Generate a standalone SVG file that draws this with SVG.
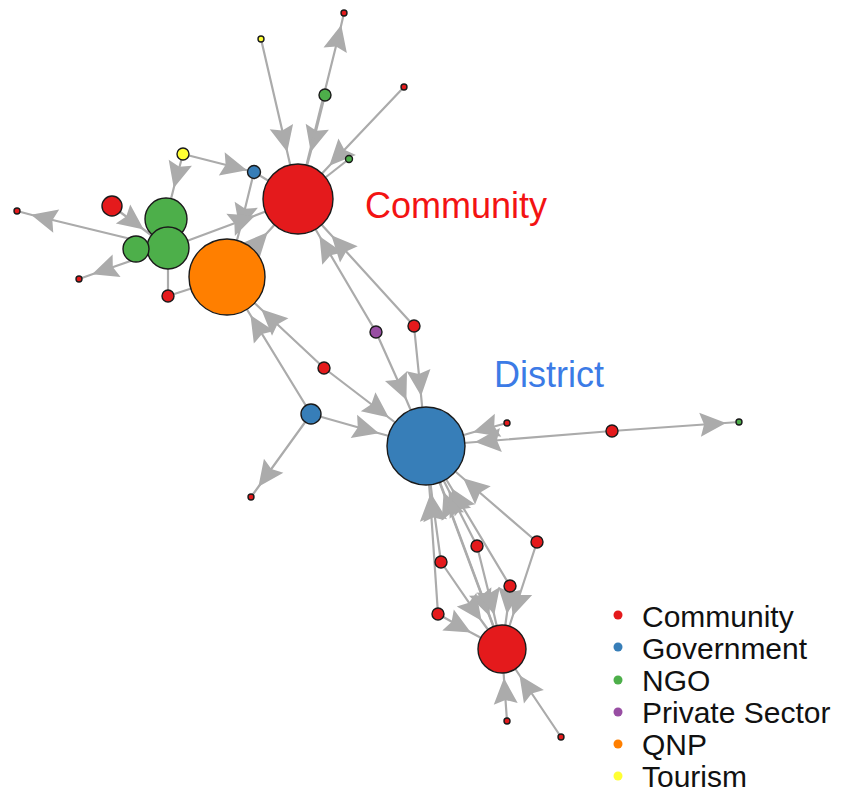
<svg xmlns="http://www.w3.org/2000/svg" width="853" height="794" viewBox="0 0 853 794">
  <style>
    .e { fill: none; stroke: #ababab; stroke-width: 2.2; }
    .a { marker-mid: url(#arr); }
    .n { stroke: #1a1a1a; stroke-width: 1.4; }
    .com { fill: #e41a1c; }
    .gov { fill: #377eb8; }
    .ngo { fill: #4daf4a; }
    .pri { fill: #984ea3; }
    .qnp { fill: #ff7f00; }
    .tou { fill: #ffff33; }
    .big { font-family: "Liberation Sans", Arial, sans-serif; font-size: 36px; }
    .leg { font-family: "Liberation Sans", Arial, sans-serif; font-size: 30px; fill: #111; }
  </style>
  <defs>
    <!-- notched arrowhead, tip at the path vertex it is attached to -->
    <marker id="arr" markerUnits="userSpaceOnUse" orient="auto" refX="0" refY="0"
            markerWidth="32" markerHeight="28" viewBox="-28 -14 32 28" overflow="visible">
      <path d="M1,0 L-25,-12 L-21,0 L-25,12 Z" fill="#ababab"/>
    </marker>
  </defs>
  <rect width="853" height="794" fill="#ffffff"/>

  <g id="edges">
    <!-- upper cluster -->
    <path class="e a" d="M261 39 L287 151 L298 199"/>
    <path class="e a" d="M325 95 L311 151 L298 199"/>
    <path class="e a" d="M298 199 L341 26 L344 13"/>
    <path class="e a" d="M404 87 L330 165 L298 199"/>
    <path class="e" d="M349 159 L298 199"/>
    <path class="e a" d="M183 154 L246 170 L254 172"/>
    <path class="e" d="M254 172 L298 199"/>
    <path class="e a" d="M254 172 L240 229 L227 277"/>
    <path class="e a" d="M168 248 L254 216 L298 199"/>
    <path class="e a" d="M227 277 L267 233 L298 199"/>
    <path class="e a" d="M183 154 L174 187 L166 219"/>
    <path class="e a" d="M112 206 L143 229 L168 248"/>
    <path class="e a" d="M168 248 L32 215 L17 211"/>
    <path class="e a" d="M168 248 L93 274 L79 279"/>
    <path class="e" d="M168 296 L168 248"/>
    <path class="e" d="M168 296 L227 277"/>
    <!-- between the hubs -->
    <path class="e a" d="M376 332 L320 237 L298 199"/>
    <path class="e a" d="M414 326 L332 236 L298 199"/>
    <path class="e a" d="M376 332 L406 399 L426 446"/>
    <path class="e a" d="M414 326 L421 395 L426 446"/>
    <path class="e a" d="M311 414 L251 316 L227 277"/>
    <path class="e a" d="M324 368 L262 310 L227 277"/>
    <path class="e a" d="M324 368 L388 417 L426 446"/>
    <path class="e a" d="M311 414 L378 433 L426 446"/>
    <path class="e a" d="M311 414 L259 486 L251 497"/>
    <!-- right branch -->
    <path class="e a" d="M507 423 L474 432 L426 446"/>
    <path class="e a" d="M612 431 L476 442 L426 446"/>
    <path class="e a" d="M612 431 L725 423 L739 422"/>
    <!-- lower cluster -->
    <path class="e a" d="M441 562 L432 496 L426 446"/>
    <path class="e a" d="M438 614 L430 496 L426 446"/>
    <path class="e a" d="M477 546 L449 491 L426 446"/>
    <path class="e a" d="M510 586 L452 489 L426 446"/>
    <path class="e a" d="M502 649 L444 493 L426 446"/>
    <path class="e a" d="M537 542 L464 479 L426 446"/>
    <path class="e a" d="M426 446 L489 615 L502 649"/>
    <path class="e a" d="M441 562 L481 620 L502 649"/>
    <path class="e a" d="M477 546 L494 614 L502 649"/>
    <path class="e a" d="M510 586 L507 613 L502 649"/>
    <path class="e a" d="M537 542 L513 615 L502 649"/>
    <path class="e a" d="M438 614 L470 632 L502 649"/>
    <path class="e a" d="M507 721 L504 679 L502 649"/>
    <path class="e a" d="M561 737 L520 676 L502 649"/>
  </g>

  <g id="n_community"><circle class="n com" cx="298" cy="199" r="35"/></g>
  <g id="n_qnp"><circle class="n qnp" cx="227" cy="277" r="38"/></g>
  <g id="n_district"><circle class="n gov" cx="426" cy="446" r="39"/></g>
  <g id="n_bottom"><circle class="n com" cx="502" cy="649" r="24"/></g>
  <g id="n_g1"><circle class="n ngo" cx="166" cy="219" r="21"/></g>
  <g id="n_g2"><circle class="n ngo" cx="168" cy="248" r="21"/></g>
  <g id="n_g3"><circle class="n ngo" cx="136" cy="249" r="13"/></g>
  <g id="n_rL"><circle class="n com" cx="112" cy="206" r="10"/></g>
  <g id="n_yL"><circle class="n tou" cx="183" cy="154" r="6"/></g>
  <g id="n_bS"><circle class="n gov" cx="254" cy="172" r="6.5"/></g>
  <g id="n_rFL"><circle class="n com" cx="17" cy="211" r="3"/></g>
  <g id="n_rLL"><circle class="n com" cx="79" cy="279" r="3"/></g>
  <g id="n_rBG"><circle class="n com" cx="168" cy="296" r="6"/></g>
  <g id="n_yT"><circle class="n tou" cx="261" cy="39" r="3"/></g>
  <g id="n_rT"><circle class="n com" cx="344" cy="13" r="3"/></g>
  <g id="n_gT"><circle class="n ngo" cx="325" cy="95" r="6"/></g>
  <g id="n_rTR"><circle class="n com" cx="404" cy="87" r="3"/></g>
  <g id="n_gS"><circle class="n ngo" cx="349" cy="159" r="3.5"/></g>
  <g id="n_pur"><circle class="n pri" cx="376" cy="332" r="6"/></g>
  <g id="n_rM1"><circle class="n com" cx="414" cy="326" r="6"/></g>
  <g id="n_rM2"><circle class="n com" cx="324" cy="368" r="6"/></g>
  <g id="n_bM"><circle class="n gov" cx="311" cy="414" r="10"/></g>
  <g id="n_rSL"><circle class="n com" cx="251" cy="497" r="3"/></g>
  <g id="n_rR1"><circle class="n com" cx="507" cy="423" r="3"/></g>
  <g id="n_rR2"><circle class="n com" cx="612" cy="431" r="6"/></g>
  <g id="n_gR"><circle class="n ngo" cx="739" cy="422" r="3"/></g>
  <g id="n_rB1"><circle class="n com" cx="477" cy="546" r="6"/></g>
  <g id="n_rB2"><circle class="n com" cx="537" cy="542" r="6"/></g>
  <g id="n_rB3"><circle class="n com" cx="441" cy="562" r="6"/></g>
  <g id="n_rB4"><circle class="n com" cx="510" cy="586" r="6"/></g>
  <g id="n_rB5"><circle class="n com" cx="438" cy="614" r="6"/></g>
  <g id="n_rB6"><circle class="n com" cx="507" cy="721" r="3"/></g>
  <g id="n_rB7"><circle class="n com" cx="561" cy="737" r="3"/></g>

  <g id="labels">
    <text class="big" x="365" y="218" fill="#f31313">Community</text>
    <text class="big" x="494" y="387" fill="#3c7be6">District</text>
  </g>

  <g id="legend">
    <circle class="com" cx="618" cy="615" r="4.5"/>
    <circle class="gov" cx="618" cy="647" r="4.5"/>
    <circle class="ngo" cx="618" cy="680" r="4.5"/>
    <circle class="pri" cx="618" cy="712" r="4.5"/>
    <circle class="qnp" cx="618" cy="744" r="4.5"/>
    <circle class="tou" cx="618" cy="776" r="4.5"/>
    <text class="leg" x="642" y="627">Community</text>
    <text class="leg" x="642" y="659">Government</text>
    <text class="leg" x="642" y="691">NGO</text>
    <text class="leg" x="642" y="723">Private Sector</text>
    <text class="leg" x="642" y="755">QNP</text>
    <text class="leg" x="642" y="787">Tourism</text>
  </g>
</svg>
